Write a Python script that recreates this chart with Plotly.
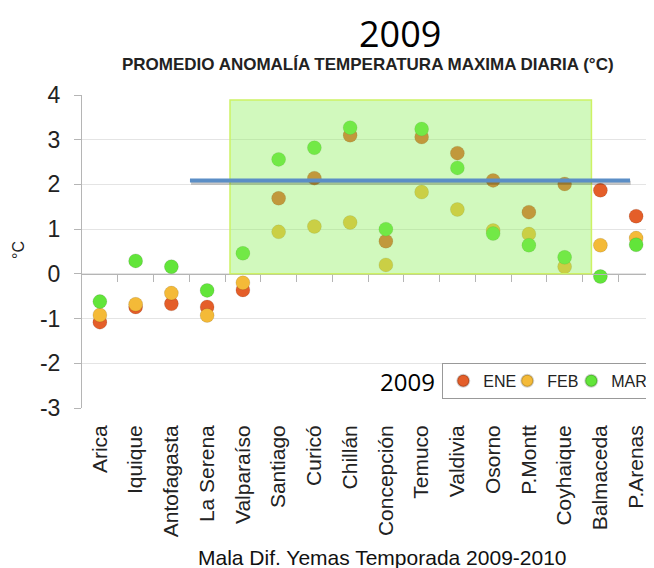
import plotly.graph_objects as go

estaciones = ["Arica", "Iquique", "Antofagasta", "La Serena", "Valparaíso", "Santiago",
              "Curicó", "Chillán", "Concepción", "Temuco", "Valdivia", "Osorno",
              "P.Montt", "Coyhaique", "Balmaceda", "P.Arenas"]

ene = [-1.08, -0.74, -0.67, -0.74, -0.36, 1.69, 2.14, 3.10, 0.73, 3.06, 2.70, 2.09, 1.38, 2.01, 1.87, 1.29]
feb = [-0.92, -0.68, -0.43, -0.93, -0.20, 0.94, 1.06, 1.15, 0.20, 1.83, 1.44, 0.97, 0.89, 0.16, 0.64, 0.80]
mar = [-0.62, 0.29, 0.16, -0.37, 0.46, 2.56, 2.82, 3.27, 1.00, 3.24, 2.37, 0.90, 0.64, 0.37, -0.06, 0.65]

y_ticks = [-3, -2, -1, 0, 1, 2, 3, 4]
y_labels = ["-3", "-2", "-1", "0", "1", "2", "3", "4"]

# nombre, valores, color, ancho de la entrada en la leyenda
series = [("ENE", ene, "#e45e29", 19), ("FEB", feb, "#f4ba38", 19), ("MAR", mar, "#62e53a", 31)]

FONT = "Liberation Sans, Arial, sans-serif"

fig = go.Figure()
for nombre, vals, color, lw in series:
    fig.add_trace(go.Scatter(
        x=estaciones, y=vals, mode="markers", name=nombre, legendwidth=lw,
        marker=dict(size=14, color=color, line=dict(width=0.6, color="rgba(0,0,0,0.18)"))
    ))

# eje auxiliar para las marcas sobre la línea del cero
fig.add_trace(go.Scatter(x=[], y=[], xaxis="x2", showlegend=False, hoverinfo="skip"))

# zona destacada y línea umbral
fig.add_shape(type="rect", xref="x", yref="y", x0=3.64, x1=13.75, y0=0, y1=3.89,
              fillcolor="rgba(140,240,90,0.40)", line=dict(color="#cdf264", width=1.5), layer="above")
fig.add_shape(type="line", xref="x", yref="y", x0=2.55, x1=14.85, y0=2.04, y1=2.04,
              line=dict(color="rgba(0,0,0,0.22)", width=4), layer="above")
fig.add_shape(type="line", xref="x", yref="y", x0=2.52, x1=14.83, y0=2.09, y1=2.09,
              line=dict(color="#5b8ec6", width=4), layer="above")

# la página tiene 8px de margen en body: la figura se ajusta a 646x560
fig.update_layout(
    width=646, height=560,
    margin=dict(l=74, r=0, t=87, b=160),
    paper_bgcolor="white", plot_bgcolor="white",
    font=dict(family=FONT, color="#222"),
    xaxis=dict(type="category", categoryorder="array", categoryarray=estaciones,
               range=[-0.5, 15.5], tickangle=-90, tickfont=dict(size=21, color="#222"),
               showgrid=False, ticks="", showline=False, ticklabelstandoff=12),
    xaxis2=dict(overlaying="x", anchor="free", position=3 / 7, range=[-0.5, 15.5],
                tickvals=[i + 0.5 for i in range(15)], ticks="outside", ticklen=7,
                tickcolor="#b5b5b5", showticklabels=False, showgrid=False,
                showline=True, linecolor="#b5b5b5", zeroline=False),
    yaxis=dict(range=[-3, 4], tickvals=y_ticks, ticktext=y_labels,
               tickfont=dict(size=23, color="#222"),
               ticks="outside", ticklen=7, tickcolor="#b5b5b5", showline=True,
               linecolor="#b5b5b5", gridcolor="#e4e4e4", zeroline=False,
               ticklabelstandoff=9),
    legend=dict(orientation="h", x=0.99, xanchor="right", y=0.144, yanchor="top",
                bordercolor="#999", borderwidth=1, bgcolor="white",
                itemsizing="constant",
                font=dict(size=16, color="#222")),
    showlegend=True,
)

fig.add_annotation(text="2009", xref="paper", yref="paper", x=0.556, y=1.198,
                   yanchor="middle", showarrow=False,
                   font=dict(family="Open Sans", size=36, color="black"))
fig.add_annotation(text="<b>PROMEDIO ANOMALÍA TEMPERATURA MAXIMA DIARIA (°C)</b>",
                   xref="paper", yref="paper", x=0.50, y=1.099, yanchor="middle",
                   showarrow=False, font=dict(size=17, color="#222"))
fig.add_annotation(text="°C", xref="paper", yref="paper", x=-0.11, y=0.505,
                   xanchor="center", yanchor="middle",
                   textangle=-90, showarrow=False, font=dict(size=16, color="#222"))
fig.add_annotation(text="Mala Dif. Yemas Temporada 2009-2010", xref="paper", yref="paper",
                   x=0.525, y=-0.479, yanchor="middle", showarrow=False,
                   font=dict(size=21, color="#111"))
fig.add_annotation(text="2009", xref="paper", yref="paper", x=0.62, y=0.086,
                   xanchor="right", yanchor="middle", showarrow=False,
                   font=dict(family="Open Sans", size=24, color="black"))

fig.write_html("out.html")
